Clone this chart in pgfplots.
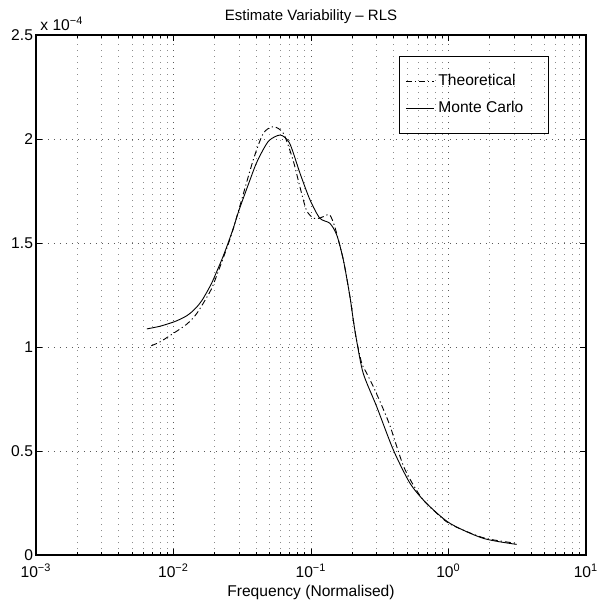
\documentclass[border=0pt]{standalone}
\usepackage{pgfplots}
\pgfplotsset{compat=1.18}
\usepackage{fontspec}
\setmainfont{Liberation Sans}
\begin{document}
\begin{tikzpicture}[font=\fontsize{7.5}{9}\selectfont]
\begin{axis}[
  scale only axis, width=275pt, height=260pt,
  xmode=log, xmin=1e-3, xmax=10,
  ymin=0, ymax=2.5e-4,
  xtick={1e-3,1e-2,1e-1,1,10},
  xticklabels={10\textsuperscript{−3},10\textsuperscript{−2},10\textsuperscript{−1},10\textsuperscript{0},10\textsuperscript{1}},
  ytick={0,0.5e-4,1e-4,1.5e-4,2e-4,2.5e-4},
  scaled y ticks=base 10:4,
  ytick scale label code/.code={x 10\textsuperscript{−4}},
  every y tick scale label/.style={at={(rel axis cs:0,1)}, anchor=south west, inner sep=0pt, yshift=2pt},
  /pgf/number format/assume math mode=true,
  tick align=inside,
  major tick length=3pt, minor tick length=1.5pt,
  tick style={black, line width=0.4pt},
  axis line style={line width=0.6pt},
  xmajorgrids, xminorgrids, ymajorgrids,
  major grid style={black!65, line width=0.4pt, dash pattern=on 0.5pt off 2.5pt},
  minor grid style={black!45, line width=0.4pt, dash pattern=on 0.5pt off 2.5pt},
  tick label style={font=\fontsize{7.8}{9}\selectfont},
  xticklabel style={yshift=-1pt},
  yticklabel style={xshift=2pt},
  xlabel={Frequency (Normalised)},
  xlabel style={yshift=3pt, font=\fontsize{7.8}{9}\selectfont},
  title={Estimate Variability – RLS},
  title style={yshift=-4pt},
  legend style={at={(0.66,0.96)}, anchor=north west, draw=black, fill=none,
    line width=0.5pt, inner xsep=3pt, inner ysep=7pt, row sep=2.5pt,
    font=\fontsize{7.8}{9}\selectfont},
  legend cell align=left,
  legend image code/.code={\draw[#1] (0pt,0pt) -- (14pt,0pt);},
]
\addplot[black, line width=0.45pt, smooth, tension=0.45,
  dash pattern=on 3pt off 1.5pt on 0.6pt off 1.5pt] coordinates {
(0.0069,1.006e-4) (0.0080,1.025e-4) (0.0100,1.066e-4) (0.0125,1.11e-4)
(0.0148,1.162e-4) (0.0184,1.265e-4) (0.0200,1.32e-4) (0.0258,1.52e-4)
(0.0300,1.665e-4) (0.0380,1.899e-4) (0.0450,2.027e-4) (0.0532,2.059e-4)
(0.0630,2.027e-4) (0.0740,1.899e-4) (0.0830,1.771e-4) (0.0925,1.659e-4)
(0.1040,1.619e-4) (0.1160,1.62e-4) (0.1280,1.632e-4) (0.1370,1.635e-4)
(0.1490,1.578e-4) (0.1720,1.418e-4) (0.1920,1.242e-4) (0.2030,1.13e-4)
(0.2148,1.03e-4) (0.2339,0.922e-4) (0.2512,0.88e-4) (0.2838,0.81e-4)
(0.3311,0.71e-4) (0.3758,0.62e-4) (0.4688,0.43e-4) (0.5623,0.33e-4)
(0.6561,0.264e-4) (0.7943,0.21e-4) (1.026,0.149e-4) (1.791,0.083e-4)
(3.133,0.056e-4)
};
\addlegendentry{\makebox[50pt][l]{Theoretical}}
\addplot[black, line width=0.45pt, smooth, tension=0.45] coordinates {
(0.0064,1.087e-4) (0.0080,1.100e-4) (0.0100,1.120e-4) (0.01114,1.133e-4)
(0.01247,1.150e-4) (0.01355,1.168e-4) (0.01476,1.192e-4) (0.01603,1.222e-4)
(0.01742,1.262e-4) (0.01896,1.307e-4) (0.0200,1.342e-4) (0.02239,1.418e-4)
(0.0244,1.482e-4) (0.02723,1.571e-4) (0.0300,1.659e-4) (0.0360,1.803e-4)
(0.0400,1.883e-4) (0.0450,1.95e-4) (0.0500,1.995e-4) (0.0600,2.019e-4)
(0.0700,1.979e-4) (0.0832,1.835e-4) (0.0984,1.707e-4) (0.1160,1.619e-4)
(0.1370,1.595e-4) (0.1540,1.538e-4) (0.1720,1.418e-4) (0.1920,1.242e-4)
(0.2030,1.13e-4) (0.2148,1.03e-4) (0.2399,0.873e-4) (0.3006,0.713e-4)
(0.3972,0.505e-4) (0.5248,0.345e-4) (0.6934,0.248e-4) (1.026,0.152e-4)
(1.791,0.080e-4) (3.133,0.051e-4)
};
\addlegendentry{\makebox[50pt][l]{Monte Carlo}}
\end{axis}
\pgfresetboundingbox
\path[use as bounding box] ([shift={(-18pt,-25pt)}]current axis.south west) rectangle ([shift={(5.5pt,17.5pt)}]current axis.north east);
\end{tikzpicture}
\end{document}
